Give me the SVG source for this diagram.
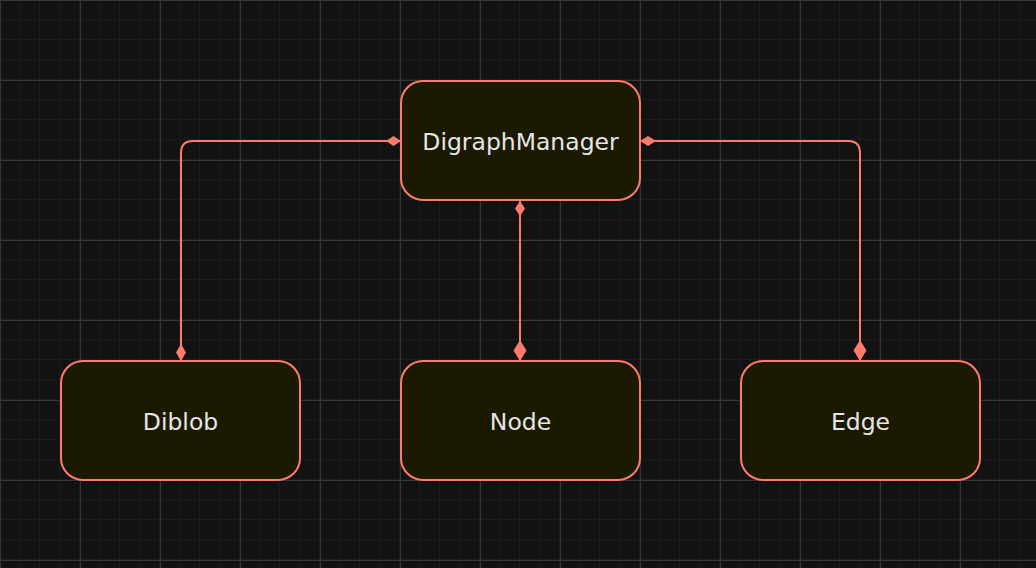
<svg xmlns="http://www.w3.org/2000/svg" width="1036" height="568" viewBox="0 0 1036 568">
<defs>
<pattern id="minor" width="20" height="20" patternUnits="userSpaceOnUse">
<path d="M20 0V20M0 20H20" stroke="#1c1c1c" stroke-width="2" fill="none"/>
</pattern>
<pattern id="major" width="80" height="80" patternUnits="userSpaceOnUse">
<path d="M0.5 0V80M0 0.5H80" stroke="#363636" stroke-width="1" fill="none"/>
</pattern>
<style>
.node rect{fill:#1b1900;stroke:#ff7b6e;stroke-width:2}
.node text{fill:#e6e6e6;font-family:"DejaVu Sans",sans-serif;font-size:23.5px;text-anchor:middle}
.edge{fill:none;stroke:#ff7b6e;stroke-width:2}
.dia{fill:#ff7b6e;stroke:none}
</style>
</defs>
<rect width="1036" height="568" fill="#121212"/>
<rect width="1036" height="568" fill="url(#minor)"/>
<rect width="1036" height="568" fill="url(#major)"/>
<g id="connectors">
<path class="edge" d="M401 141H193Q181 141 181 153V361"/>
<path class="edge" d="M520 201V361"/>
<path class="edge" d="M640 141H848Q860 141 860 153V361"/>
<polygon class="dia" points="401,141 393.5,136 386,141 393.5,146"/>
<polygon class="dia" points="181,361 186,352.5 181,344 176,352.5"/>
<polygon class="dia" points="520,201 525,208.5 520,216 515,208.5"/>
<polygon class="dia" points="520,361 526.5,350.5 520,340 513.5,350.5"/>
<polygon class="dia" points="640,141 648,136 656,141 648,146"/>
<polygon class="dia" points="860,361 866.5,350.5 860,340 853.5,350.5"/>
</g>
<g id="DigraphManager" class="node"><rect x="401" y="81" width="239" height="119" rx="22"/><text x="520.5" y="150">DigraphManager</text></g>
<g id="Diblob" class="node"><rect x="61" y="361" width="239" height="119" rx="22"/><text x="180.5" y="430">Diblob</text></g>
<g id="Node" class="node"><rect x="401" y="361" width="239" height="119" rx="22"/><text x="520.5" y="430">Node</text></g>
<g id="Edge" class="node"><rect x="741" y="361" width="239" height="119" rx="22"/><text x="860.5" y="430">Edge</text></g>
</svg>
